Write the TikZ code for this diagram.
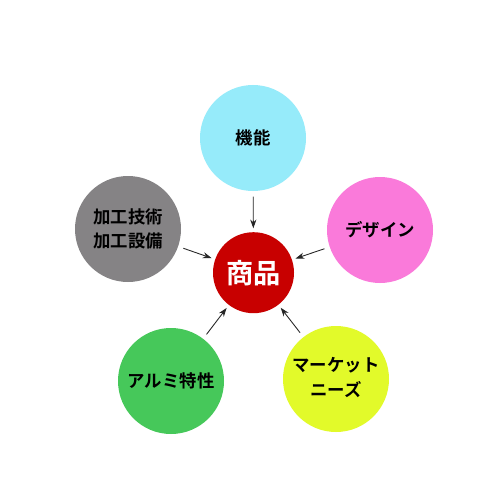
\documentclass[tikz,border=0pt]{standalone}
\usepackage{fontspec}
\newfontfamily\jp{Noto Sans CJK JP Bold}
\usetikzlibrary{arrows.meta}
\definecolor{ccyan}{RGB}{150,235,250}
\definecolor{cpink}{RGB}{250,122,218}
\definecolor{cgray}{RGB}{133,131,133}
\definecolor{cred}{RGB}{200,0,0}
\definecolor{cgreen}{RGB}{70,200,90}
\definecolor{cyel}{RGB}{226,250,42}
\tikzset{
  bub/.style={circle, minimum size=106*0.02cm, inner sep=0pt, font=\jp\fontsize{9.9pt}{14pt}\selectfont, align=center, text=black},
  conn/.style={-{Stealth[length=5pt,width=3.5pt]}, draw=black!85, line width=0.5pt, shorten <=3pt, shorten >=2pt}
}
\begin{document}
\begin{tikzpicture}[x=0.02cm,y=-0.02cm]
\useasboundingbox (0,0) rectangle (500,500);
\fill[white] (0,0) rectangle (500,500);
\node[bub, fill=ccyan] (kino) at (253,138) {機能};
\node[bub, fill=cpink] (design) at (380,230) {デザイン};
\node[bub, fill=cgray] (kako) at (128,229) {加工技術\\加工設備};
\node[bub, fill=cgreen] (alumi) at (171,381) {アルミ特性};
\node[bub, fill=cyel] (market) at (336,379) {\raisebox{-7pt}{\begin{tabular}{@{}c@{}}マーケット\\ニーズ\end{tabular}}};
\node[circle, fill=cred, minimum size=81*0.02cm, inner sep=0pt, text=white, font=\jp\fontsize{15.5pt}{18pt}\selectfont] (shohin) at (253.5,272.7) {商品};
\draw[conn] (kino) -- (shohin);
\draw[conn] (kako) -- (shohin);
\draw[conn] (design) -- (shohin);
\draw[conn] (alumi) -- (shohin);
\draw[conn] (market) -- (shohin);
\end{tikzpicture}
\end{document}
